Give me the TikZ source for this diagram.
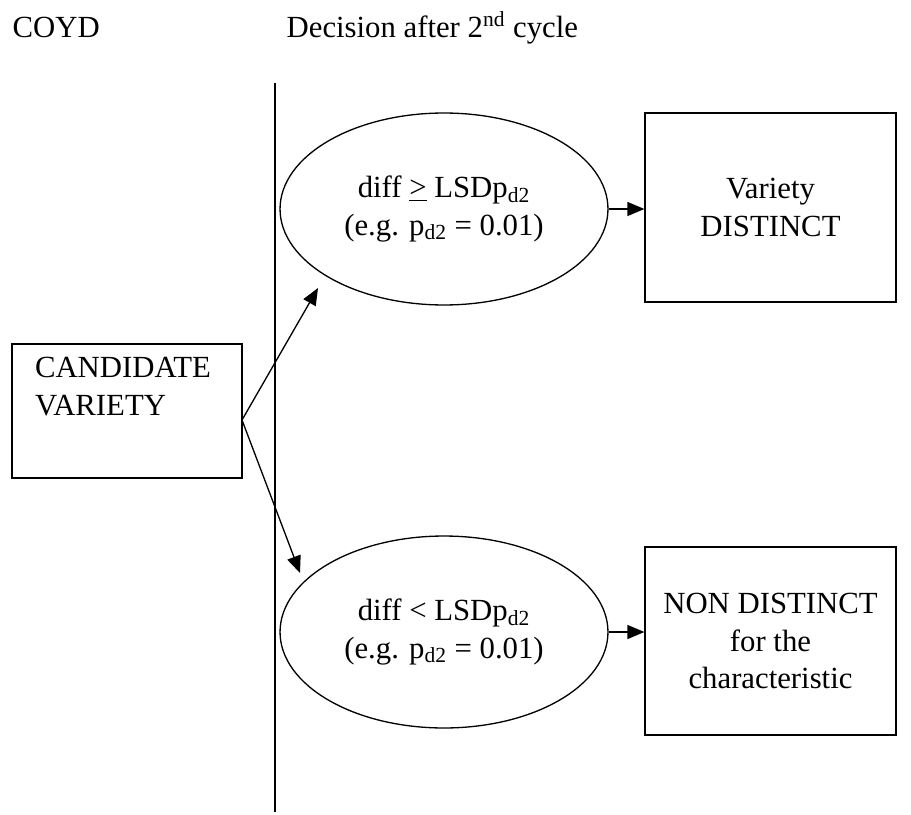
\documentclass[tikz,border=0pt]{standalone}
\usepackage{fontspec}
\setmainfont{Liberation Serif}
\usetikzlibrary{arrows.meta, shapes.geometric}

\begin{document}
\begin{tikzpicture}[
x=0.02cm, y=-0.02cm,
line width=0.75pt,
font=\fontsize{17.5}{21.5}\selectfont,
testnode/.style={
ellipse,
draw,
minimum width=6.56cm,
minimum height=3.84cm,
inner sep=0 pt,
align=center,
},
resultbox/.style={
rectangle,
draw,
minimum width=5.02cm,
minimum height=3.78cm,
inner sep=0 pt,
align=center,
},
flow/.style={-{Triangle[length=0.34cm, width=0.28cm]}},
]
\useasboundingbox (0,0) rectangle (911,814);

% headings
\node [anchor=base west, inner sep=0 pt] at (12,38) (coyd) {COYD};
\node [anchor=base west, inner sep=0 pt] at (286,38) (cycle)
{Decision after 2\textsuperscript{nd} cycle};

% separating line
\coordinate (septop) at (275,83);
\coordinate (sepbot) at (275,812);
\draw [line width=1.1pt] (septop) -- (sepbot);

% candidate
\node [draw, minimum width=4.6cm, minimum height=2.68cm, inner xsep=0.46cm,
inner ysep=0 pt, text width=3.68cm, align=left] at (127,411) (cand)
{CANDIDATE\\VARIETY\\\strut};
\coordinate (fork) at (242,420);

% decisions after the 2nd cycle
\node [testnode] at (444,209) (geq)
{diff \underline{>} LSDp\textsubscript{d2}\\(e.g. p\textsubscript{d2} = 0.01)};
\node [testnode] at (444,632) (less)
{diff < LSDp\textsubscript{d2}\\(e.g. p\textsubscript{d2} = 0.01)};

\node [resultbox] at (770.5,207.5) (distinct) {Variety\\DISTINCT};
\node [resultbox, minimum height=3.76cm] at (770.5,641) (nondistinct)
{NON DISTINCT\\for the\\characteristic};

% arrows
\coordinate (uptip) at (318,288);
\coordinate (lowtip) at (300,573);
\draw [flow] (fork) -- (uptip);
\draw [flow] (fork) -- (lowtip);
\draw [flow] (geq.east) -- (geq.east -| distinct.west);
\draw [flow] (less.east) -- (less.east -| nondistinct.west);

\end{tikzpicture}
\end{document}
